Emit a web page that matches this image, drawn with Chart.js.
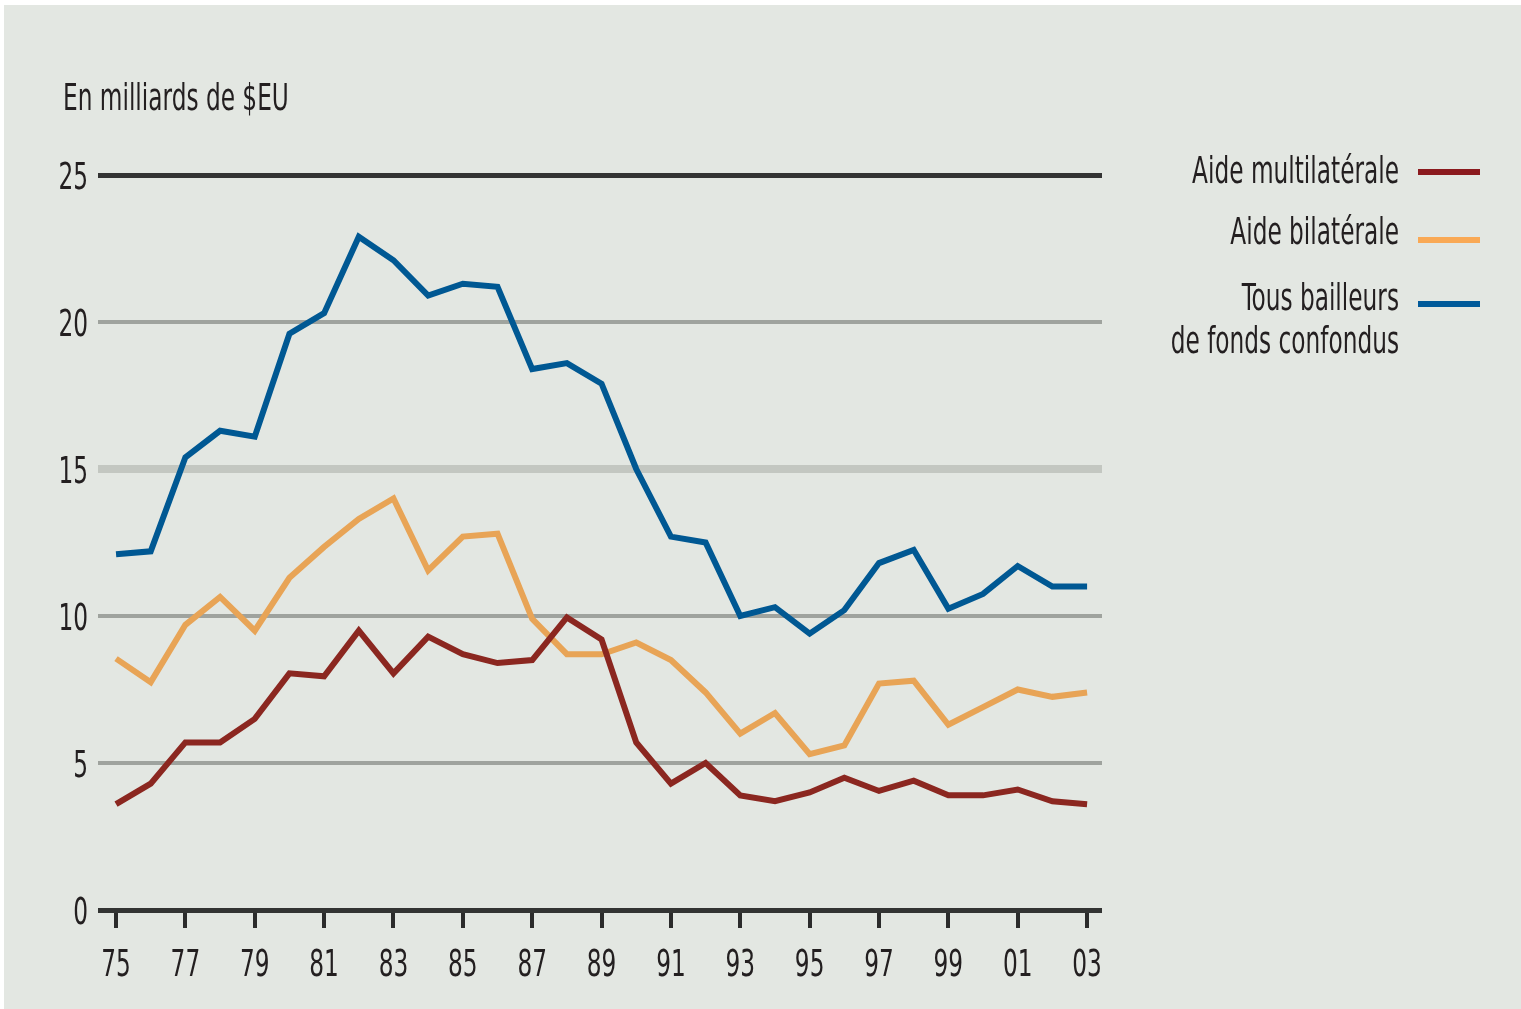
<!DOCTYPE html>
<html>
<head>
<meta charset="utf-8">
<script src="https://cdn.jsdelivr.net/npm/chart.js@4"></script>
<style>
  html, body { margin: 0; padding: 0; background: #fff; }
  canvas { display: block; }
</style>
</head>
<body>
<canvas id="aidChart" width="1521" height="1009"></canvas>
<script>
// Years on the x axis and the tick labels shown under it
const years = [1975, 1976, 1977, 1978, 1979, 1980, 1981, 1982, 1983, 1984, 1985, 1986, 1987, 1988, 1989,
               1990, 1991, 1992, 1993, 1994, 1995, 1996, 1997, 1998, 1999, 2000, 2001, 2002, 2003];
const xTickYears = [1975, 1977, 1979, 1981, 1983, 1985, 1987, 1989, 1991, 1993, 1995, 1997, 1999, 2001, 2003];
const xTickLabels = ['75', '77', '79', '81', '83', '85', '87', '89', '91', '93', '95', '97', '99', '01', '03'];
const yTickValues = [0, 5, 10, 15, 20, 25];
const yTickLabels = ['0', '5', '10', '15', '20', '25'];

// Values in billions of US$
const multilateral = [3.6, 4.3, 5.7, 5.7, 6.5, 8.05, 7.95, 9.5, 8.05, 9.3, 8.7, 8.4, 8.5, 9.95, 9.2,
                      5.7, 4.3, 5.0, 3.9, 3.7, 4.0, 4.5, 4.05, 4.4, 3.9, 3.9, 4.1, 3.7, 3.6];
const bilateral = [8.55, 7.75, 9.7, 10.65, 9.5, 11.3, 12.35, 13.3, 14.0, 11.55, 12.7, 12.8, 9.9, 8.7, 8.7,
                   9.1, 8.5, 7.4, 6.0, 6.7, 5.3, 5.6, 7.7, 7.8, 6.3, 6.9, 7.5, 7.25, 7.4];
const allDonors = [12.1, 12.2, 15.4, 16.3, 16.1, 19.6, 20.3, 22.9, 22.1, 20.9, 21.3, 21.2, 18.4, 18.6, 17.9,
                   15.0, 12.7, 12.5, 10.0, 10.3, 9.4, 10.2, 11.8, 12.25, 10.25, 10.75, 11.7, 11.0, 11.0];

const seriesLabels = ['Aide multilatérale', 'Aide bilatérale', 'Tous bailleurs\nde fonds confondus'];
const yTitle = 'En milliards de $EU';

const TEXT = '#231f20';
const FONT = '"Liberation Sans Narrow", "DejaVu Sans Condensed", "Roboto Condensed", sans-serif';

// condensed, tall text like the original typeface
function drawText(ctx, text, x, y, size, align) {
    ctx.save();
    ctx.font = size + 'px ' + FONT;
    ctx.fillStyle = TEXT;
    ctx.textBaseline = 'alphabetic';
    ctx.textAlign = align;
    ctx.translate(x, y);
    ctx.scale(0.68, 1);
    ctx.fillText(text, 0, 0);
    ctx.restore();
}

const toPoints = vals => vals.map((v, i) => ({ x: years[i], y: v }));

const decorPlugin = {
    id: 'decor',
    beforeDraw(chart) {
        const ctx = chart.ctx;
        ctx.save();
        ctx.fillStyle = '#ffffff';
        ctx.fillRect(0, 0, chart.width, chart.height);
        ctx.fillStyle = '#e3e7e2';
        ctx.fillRect(4, 5, chart.width - 4, chart.height - 5);
        ctx.restore();
    },
    afterDraw(chart) {
        const ctx = chart.ctx;
        const xs = chart.scales.x, ys = chart.scales.y;

        // axis title
        drawText(ctx, yTitle, 63, 110, 38, 'left');

        // y tick labels
        yTickValues.forEach((v, i) => {
            drawText(ctx, yTickLabels[i], 88, ys.getPixelForValue(v) + 14, 38, 'right');
        });
        // x tick labels
        xTickYears.forEach((v, i) => {
            drawText(ctx, xTickLabels[i], xs.getPixelForValue(v), 976, 38, 'center');
        });

        // legend on the right
        const rows = [183, 244, 310];
        const keyY = [172, 240, 304];
        chart.data.datasets.forEach((ds, i) => {
            const lines = seriesLabels[i].split('\n');
            lines.forEach((t, j) => drawText(ctx, t, 1399, rows[i] + j * 43, 38, 'right'));
            ctx.save();
            ctx.strokeStyle = ds.legendColor;
            ctx.lineWidth = 6;
            ctx.beginPath();
            ctx.moveTo(1418, keyY[i]);
            ctx.lineTo(1480, keyY[i]);
            ctx.stroke();
            ctx.restore();
        });
    }
};

new Chart(document.getElementById('aidChart').getContext('2d'), {
    type: 'line',
    data: {
        datasets: [
            { label: seriesLabels[0], data: toPoints(multilateral), borderColor: '#8b2720', legendColor: '#8b1a1e' },
            { label: seriesLabels[1], data: toPoints(bilateral), borderColor: '#e8a456', legendColor: '#f9a955' },
            { label: seriesLabels[2], data: toPoints(allDonors), borderColor: '#005893', legendColor: '#005a9a' }
        ].map(ds => Object.assign(ds, {
            borderWidth: 6,
            pointRadius: 0,
            tension: 0,
            fill: false,
            borderJoinStyle: 'miter'
        }))
    },
    options: {
        responsive: false,
        animation: false,
        layout: { padding: { left: 0, right: 419, top: 175, bottom: 0 } },
        plugins: {
            legend: { display: false },
            tooltip: { enabled: false }
        },
        scales: {
            x: {
                type: 'linear',
                min: 1974.48,
                max: 2003.43,
                afterBuildTicks: scale => { scale.ticks = xTickYears.map(v => ({ value: v })); },
                afterFit: scale => { scale.height = 99; },
                ticks: { display: false },
                border: { display: false },
                grid: {
                    drawOnChartArea: false,
                    drawTicks: true,
                    tickLength: 18,
                    color: '#2b2b2b',
                    lineWidth: 4
                }
            },
            y: {
                min: 0,
                max: 25,
                afterBuildTicks: scale => { scale.ticks = yTickValues.map(v => ({ value: v })); },
                afterFit: scale => { scale.width = 98; },
                ticks: { display: false },
                border: { display: false },
                grid: {
                    drawTicks: false,
                    color: ctx => {
                        const v = ctx.tick.value;
                        if (v === 0 || v === 25) return '#333433';
                        if (v === 15) return '#c3c7c1';
                        return '#9fa39e';
                    },
                    lineWidth: ctx => {
                        const v = ctx.tick.value;
                        if (v === 0 || v === 25) return 5;
                        if (v === 15) return 8;
                        return 4;
                    }
                }
            }
        }
    },
    plugins: [decorPlugin]
});
</script>
</body>
</html>
